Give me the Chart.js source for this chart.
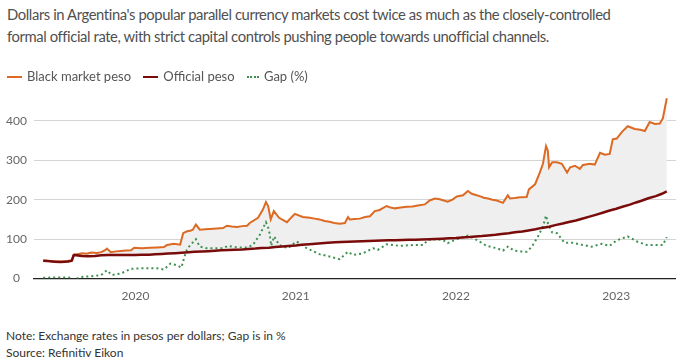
<!DOCTYPE html>
<html>
<head>
<meta charset="utf-8">
<script src="https://cdn.jsdelivr.net/npm/chart.js@4.4.0/dist/chart.umd.min.js"></script>
<style>
  body { margin: 0; background: #fff; font-family: Lato, "Open Sans", sans-serif; }
  #wrap { position: relative; width: 676px; height: 361px; overflow: hidden; }
  #title { position: absolute; left: 7px; top: 3px; width: 672px; font-size: 14.8px; letter-spacing: -0.4px; line-height: 22px; color: #4f4f4f; }
  #legend { position: absolute; left: 7px; top: 68px; font-size: 13px; color: #555; z-index: 2; white-space: nowrap; }
  #legend span.item { display: inline-block; margin-right: 9px; }
  #legend i { display: inline-block; width: 15px; height: 0; vertical-align: middle; margin-right: 5px; position: relative; top: -1px; }
  #box { position: absolute; left: 0; top: 75px; width: 676px; height: 238px; }
  #foot { position: absolute; left: 6px; top: 327px; font-size: 12px; line-height: 17px; color: #333; }
</style>
</head>
<body>
<div id="wrap">
  <div id="title">Dollars in Argentina's popular parallel currency markets cost twice as much as the closely-controlled<br>formal official rate, with strict capital controls pushing people towards unofficial channels.</div>
  <div id="legend">
    <span class="item"><i style="border-top:2.5px solid #dc6a22"></i>Black market peso</span>
    <span class="item"><i style="border-top:2.5px solid #7a0b0b"></i>Official peso</span>
    <span class="item"><i style="border-top:2.5px dotted #3f8f50;width:12px"></i>Gap (%)</span>
  </div>
  <div id="box"><canvas id="chart"></canvas></div>
  <div id="foot">Note: Exchange rates in pesos per dollars; Gap is in %<br>Source: Refinitiv Eikon</div>
</div>
<script>
// axis range and ticks
const axisStart = '2019-05-15';
const axisEnd = '2023-05-17';
const xTicks = [2020, 2021, 2022, 2023];
const yTicks = [0, 100, 200, 300, 400];

// black market (blue) dollar, pesos per dollar
const blackDates = ['2019-06-05','2019-07-02','2019-07-25','2019-08-09','2019-08-13','2019-08-19','2019-09-02','2019-09-12','2019-09-22','2019-10-05','2019-10-15','2019-10-24','2019-10-28','2019-11-06','2019-11-18','2019-11-29','2019-12-10','2019-12-22','2019-12-29',
  '2020-01-15','2020-02-03','2020-02-20','2020-03-06','2020-03-13','2020-03-29','2020-04-12','2020-04-19','2020-04-28','2020-05-05','2020-05-11','2020-05-18','2020-05-27','2020-06-08','2020-06-19','2020-07-05','2020-07-19','2020-07-28','2020-08-08','2020-08-20','2020-09-01','2020-09-12','2020-09-18','2020-10-07','2020-10-18','2020-10-25','2020-10-30','2020-11-05','2020-11-12','2020-11-24','2020-12-12','2020-12-22','2020-12-30',
  '2021-01-17','2021-02-02','2021-02-13','2021-02-24','2021-03-08','2021-03-19','2021-03-30','2021-04-11','2021-04-23','2021-04-30','2021-05-04','2021-05-15','2021-05-27','2021-06-08','2021-06-19','2021-06-30','2021-07-11','2021-07-27','2021-08-05','2021-08-15','2021-08-28','2021-09-11','2021-09-24','2021-10-06','2021-10-22','2021-11-02','2021-11-14','2021-11-25','2021-12-13','2021-12-24',
  '2022-01-03','2022-01-17','2022-01-28','2022-02-06','2022-02-15','2022-02-24','2022-03-05','2022-03-15','2022-03-25','2022-04-04','2022-04-18','2022-04-29','2022-05-04','2022-05-15','2022-05-27','2022-06-11','2022-06-16','2022-06-30','2022-07-11','2022-07-18','2022-07-25','2022-07-29','2022-08-01','2022-08-08','2022-08-19','2022-08-30','2022-09-11','2022-09-18','2022-09-29','2022-10-10','2022-10-17','2022-11-02','2022-11-13','2022-11-25','2022-12-06','2022-12-17','2022-12-24',
  '2023-01-02','2023-01-14','2023-01-27','2023-02-12','2023-02-25','2023-03-07','2023-03-18','2023-03-30','2023-04-10','2023-04-17','2023-04-26'];
const blackValues = [46,43.5,44,46,60,61,64,63,66,65,67,72,76,67,69,70,71,72,78,
  77,78,79,80,85,88,86,115,120,121,124,137,124,125,126,127,128,134,132,131,133,134,141,154,175,194,184,150,171,154,143,155,164,
  156,154,152,150,146,144,141,139,141,156,150,151,152,156,158,171,174,184,180,178,180,182,183,185,188,198,203,201,195,200,
  208,211,222,215,212,209,205,203,200,198,192,211,203,204,206,207,226,239,269,291,336,325,282,295,295,291,269,282,286,278,288,291,289,319,314,316,353,
  355,372,386,379,377,374,397,392,393,406,457];

// official wholesale rate, pesos per dollar
const officialDates = ['2019-06-05','2019-06-15','2019-07-01','2019-07-15','2019-08-01','2019-08-09','2019-08-13','2019-08-15','2019-09-01','2019-09-15','2019-10-01','2019-10-15','2019-11-01','2019-11-15','2019-12-01','2019-12-15',
  '2020-01-01','2020-01-15','2020-02-01','2020-02-15','2020-03-01','2020-03-15','2020-04-01','2020-04-15','2020-05-01','2020-05-15','2020-06-01','2020-06-15','2020-07-01','2020-07-15','2020-08-01','2020-08-15','2020-09-01','2020-09-15','2020-10-01','2020-10-15','2020-11-01','2020-11-15','2020-12-01','2020-12-15',
  '2021-01-01','2021-01-15','2021-02-01','2021-02-15','2021-03-01','2021-03-15','2021-04-01','2021-04-15','2021-05-01','2021-05-15','2021-06-01','2021-06-15','2021-07-01','2021-07-15','2021-08-01','2021-08-15','2021-09-01','2021-09-15','2021-10-01','2021-10-15','2021-11-01','2021-11-15','2021-12-01','2021-12-15',
  '2022-01-01','2022-01-15','2022-02-01','2022-02-15','2022-03-01','2022-03-15','2022-04-01','2022-04-15','2022-05-01','2022-05-15','2022-06-01','2022-06-15','2022-07-01','2022-07-15','2022-08-01','2022-08-15','2022-09-01','2022-09-15','2022-10-01','2022-10-15','2022-11-01','2022-11-15','2022-12-01','2022-12-15',
  '2023-01-01','2023-01-15','2023-02-01','2023-02-15','2023-03-01','2023-03-15','2023-04-01','2023-04-15','2023-04-26'];
const officialValues = [45.5,44.5,43,42,43.5,45.5,58,60,57,56.5,57.5,59,59.7,59.8,60,60,
  60,60.2,60.5,61.6,62.5,63.5,64.5,65.6,66.8,68,68.7,69.6,70.5,71.6,72.3,73,74,75.3,76.3,77.6,78.4,80,81.3,82.6,
  84,85.6,87.3,88.4,89.8,91,92,92.8,93.6,94.2,94.8,95.3,95.8,96.4,96.9,97.3,97.8,98.3,98.7,99.2,99.8,100.5,101.2,102,
  102.7,104.2,105.2,106.5,107.7,109.5,111,113,115,117.5,119.5,122,125.2,128.5,131.5,135.5,139.5,143.5,147.3,151.7,157,161.5,167,172,
  177.2,182,187.5,193,198,203.5,209,215,221];

// gap between black market and official rate, %
const gapDates = ['2019-06-05','2019-07-02','2019-07-25','2019-08-09','2019-08-13','2019-08-29','2019-09-22','2019-10-15','2019-10-28','2019-11-08','2019-11-29','2019-12-22',
  '2020-01-11','2020-02-19','2020-03-06','2020-03-21','2020-04-04','2020-04-15','2020-04-22','2020-04-29','2020-05-18','2020-05-27','2020-06-12','2020-07-19','2020-07-30','2020-08-20','2020-09-12','2020-09-25','2020-10-11','2020-10-25','2020-11-01','2020-11-06','2020-11-13','2020-11-24','2020-12-14',
  '2021-01-03','2021-01-26','2021-02-24','2021-03-19','2021-04-11','2021-04-30','2021-05-11','2021-06-03','2021-06-26','2021-07-07','2021-07-27','2021-08-26','2021-09-25','2021-10-18','2021-10-29','2021-11-18','2021-12-02','2021-12-13',
  '2022-01-03','2022-01-28','2022-02-17','2022-03-12','2022-04-04','2022-04-18','2022-04-29','2022-05-13','2022-05-27','2022-06-11','2022-06-23','2022-07-07','2022-07-18','2022-07-25','2022-07-30','2022-08-08','2022-08-19','2022-09-05','2022-09-23','2022-10-17','2022-11-06','2022-11-29','2022-12-17',
  '2023-01-02','2023-01-27','2023-02-17','2023-03-12','2023-04-03','2023-04-17','2023-04-26'];
const gapValues = [2,3,3,2,-4,4,6,9,21,9,13,25,
  26,26,23,38,34,28,56,77,100,81,77,77,83,79,79,85,111,143,124,83,107,85,77,
  94,77,62,56,49,68,60,64,77,73,87,83,85,85,98,100,98,90,
  100,109,98,83,77,71,81,71,69,68,81,107,132,160,137,117,115,91,91,85,81,88,83,
  97,107,94,85,85,85,105];

function toYear(s) {
  const d = new Date(s + 'T00:00:00Z');
  const y = d.getUTCFullYear();
  const start = Date.UTC(y, 0, 1);
  const len = Date.UTC(y + 1, 0, 1) - start;
  return y + (d.getTime() - start) / len;
}

function pairs(dates, values) {
  return dates.map((d, i) => ({ x: toYear(d), y: values[i] }));
}

const ctx = document.getElementById('chart').getContext('2d');

const chart = new Chart(ctx, {
  type: 'line',
  data: {
    datasets: [{
      label: 'Black market peso',
      data: pairs(blackDates, blackValues),
      borderColor: '#dc6a22',
      backgroundColor: '#efefef',
      borderWidth: 2,
      fill: '+1',
      order: 1
    }, {
      label: 'Official peso',
      data: pairs(officialDates, officialValues),
      borderColor: '#7a0b0b',
      borderWidth: 2.5,
      fill: false,
      order: 0
    }, {
      label: 'Gap (%)',
      data: pairs(gapDates, gapValues),
      borderColor: '#3f8f50',
      borderWidth: 2,
      borderDash: [2, 3],
      fill: false,
      order: 2
    }]
  },
  options: {
    responsive: true,
    maintainAspectRatio: false,
    animation: false,
    layout: { padding: 0 },
    elements: { point: { radius: 0 }, line: { tension: 0 } },
    plugins: {
      legend: { display: false },
      tooltip: { enabled: false },
      filler: { drawTime: 'beforeDatasetsDraw' }
    },
    scales: {
      x: {
        type: 'linear',
        min: toYear(axisStart),
        max: toYear(axisEnd),
        afterBuildTicks: scale => { scale.ticks = xTicks.map(v => ({ value: v })); },
        grid: { display: false, drawTicks: false },
        border: { display: true, color: '#222', width: 1.2 },
        ticks: {
          padding: 10,
          color: '#666',
          font: { family: 'Lato', size: 12 },
          callback: v => String(v)
        }
      },
      y: {
        min: 0,
        max: 480,
        afterBuildTicks: scale => { scale.ticks = yTicks.map(v => ({ value: v })); },
        afterFit: scale => { scale.width = 34; },
        grid: { color: '#d4d4d4', drawTicks: false, lineWidth: 1 },
        border: { display: false },
        ticks: {
          padding: 7,
          crossAlign: 'center',
          color: '#666',
          font: { family: 'Lato', size: 12 }
        }
      }
    }
  }
});
</script>
</body>
</html>
